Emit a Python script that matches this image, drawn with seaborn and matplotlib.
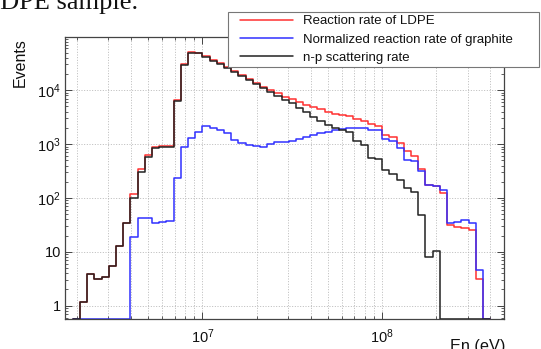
import numpy as np
import pandas as pd
import matplotlib
matplotlib.use("Agg")
import matplotlib.pyplot as plt
import seaborn as sns
from matplotlib.ticker import FixedLocator, FuncFormatter, LogLocator, NullFormatter
from matplotlib.legend_handler import HandlerLine2D
from matplotlib.lines import Line2D

# ---- binning: 25 log bins per decade, first edge at 10^6.32 eV ----
log_edge_start = 6.32
log_bin_width = 0.04
n_bins = 56

# ---- series values (events per bin) ----
ldpe = [1.15, 3.9, 3.2, 3.4, 5.4, 13, 35, 117, 340, 625,
        870, 905, 910, 6500, 30500, 50500, 50000, 43500, 36800, 31500,
        26500, 22700, 19200, 16200, 13500, 11500, 10000, 8730, 7550, 6740,
        5930, 5290, 4790, 4400, 3980, 3650, 3450, 3250, 2950, 2700,
        2400, 2150, 1470, 1380, 1040, 740, 610, 340, 174, 168,
        123, 31, 29.5, 27.5, 25.5, 3.2]

graphite = [0, 0, 0, 0, 0, 0, 0, 19, 43, 43,
            34.5, 35.5, 37.5, 237, 890, 1270, 1690, 2200, 1950, 1820,
            1600, 1190, 1030, 960, 920, 870, 990, 1100, 1080, 1150,
            1260, 1370, 1470, 1580, 1690, 1820, 1880, 1950, 2000, 1950,
            1860, 1800, 1240, 1120, 860, 510, 490, 320, 174, 168,
            140, 35, 36, 39, 34, 4.6]

np_scatter = [1.15, 3.9, 3.2, 3.4, 5.4, 13, 35, 100, 300, 580,
              830, 870, 880, 6300, 29000, 48800, 48200, 41700, 35100, 30100,
              25300, 21700, 18300, 15400, 12800, 11100, 9350, 7780, 6550, 5690,
              4720, 3980, 3210, 2670, 2250, 1950, 1800, 1650, 1150, 980,
              540, 520, 330, 278, 215, 151, 130, 48, 8, 10.5,
              0, 0, 0, 0, 0, 0]

series_labels = ["Reaction rate of LDPE",
                 "Normalized reaction rate of graphite",
                 "n-p scattering rate"]
series_colors = ["#ff3030", "#3030ff", "#222222"]

y_tick_values = [1, 10, 100, 1000, 10000]
x_tick_values = [1e7, 1e8]

# ---- style ----
sns.set_theme(style="ticks")
plt.rcParams["font.family"] = ["Liberation Sans", "DejaVu Sans"]
plt.rcParams["mathtext.fontset"] = "custom"
plt.rcParams["mathtext.rm"] = "Liberation Sans"
plt.rcParams["mathtext.it"] = "Liberation Sans:italic"
plt.rcParams["mathtext.bf"] = "Liberation Sans:bold"

W, H = 541, 349
fig = plt.figure(figsize=(W / 100, H / 100), dpi=100)
ax = fig.add_axes([65 / W, 1 - 319 / H, 439.5 / W, 282 / H])
ax.set_facecolor("white")
ax.set_xscale("log")
ax.set_yscale("log")

xmin, xmax = 10 ** 6.236, 10 ** 8.68
ymin, ymax = 0.567, 9.7e4

edges = 10 ** (log_edge_start + log_bin_width * np.arange(-1, n_bins + 2))


def step_frame(values):
    v = np.concatenate([[0.0], np.asarray(values, float), [0.0, 0.0]])
    v = np.where(v > 0, v, ymin)  # empty bins drawn on the frame bottom
    return pd.DataFrame({"E": edges, "N": v})


for vals, lab, col in zip([ldpe, graphite, np_scatter], series_labels, series_colors):
    sns.lineplot(data=step_frame(vals), x="E", y="N", estimator=None, sort=False,
                 drawstyle="steps-post", color=col, linewidth=1.1, ax=ax,
                 legend=False)

ax.set_xlim(xmin, xmax)
ax.set_ylim(ymin, ymax)

# grid
ax.set_axisbelow(True)
grid_kw = dict(color="#b0b0b0", linestyle=(0, (1.2, 2.0)), linewidth=0.6)
ax.grid(True, which="both", axis="x", **grid_kw)
ax.grid(True, which="major", axis="y", **grid_kw)

# ticks
ax.xaxis.set_major_locator(FixedLocator(x_tick_values))
ax.xaxis.set_minor_locator(LogLocator(base=10, subs=np.arange(2, 10)))
ax.yaxis.set_major_locator(FixedLocator(y_tick_values))
ax.yaxis.set_minor_locator(LogLocator(base=10, subs=np.arange(2, 10), numticks=20))
ax.xaxis.set_minor_formatter(NullFormatter())
ax.yaxis.set_minor_formatter(NullFormatter())


def fmt(v, pos):
    e = int(round(np.log10(v)))
    if e == 0:
        return "1"
    if e == 1:
        return "10"
    return r"$10^{%d}$" % e


ax.xaxis.set_major_formatter(FuncFormatter(fmt))
ax.yaxis.set_major_formatter(FuncFormatter(fmt))
ax.tick_params(which="both", direction="in", top=True, right=True,
               color="#444444", labelsize=10.5, labelcolor="#111111")
ax.tick_params(which="major", length=5, width=0.7)
ax.tick_params(which="minor", length=2.5, width=0.6)
ax.tick_params(axis="x", which="major", pad=6)
ax.tick_params(axis="y", which="major", pad=3)
for s in ax.spines.values():
    s.set_color("#444444")
    s.set_linewidth(0.9)
ax.set_xlabel("")
ax.set_ylabel("")

# axis titles (ROOT-like placement)
fig.text(20 / W, 1 - 38 / H, "Events", rotation=90, ha="center", va="top",
         fontsize=11.5, color="#111111")
fig.text(505 / W, -1.6 / H, "En (eV)", ha="right", va="baseline",
         fontsize=11.7, color="#111111")

# cropped document text above the figure
fig.text(-16 / W, 1 - 9 / H, "LDPE sample.", family=["Liberation Serif", "DejaVu Serif"],
         fontsize=19, ha="left", va="baseline", color="#111111")

# legend (box spans x 228..539 px, y 12..66 px from the top)
handles = [Line2D([], [], color=c, linewidth=1.1) for c in series_colors]
leg = fig.legend(handles, series_labels, loc="upper left",
                 bbox_to_anchor=(228 / W, 1 - 66 / H, (539 - 228) / W, 53.7 / H),
                 bbox_transform=fig.transFigure, mode="expand",
                 fontsize=9.5, frameon=True, fancybox=False, framealpha=1,
                 edgecolor="#777777", borderpad=0.22, labelspacing=0.45,
                 handlelength=4.7, handletextpad=0.76, borderaxespad=0,
                 handler_map={Line2D: HandlerLine2D(xpad=0.68)})
leg.get_frame().set_linewidth(0.8)
for t in leg.get_texts():
    t.set_color("#111111")

fig.savefig("out.png", dpi=100)
